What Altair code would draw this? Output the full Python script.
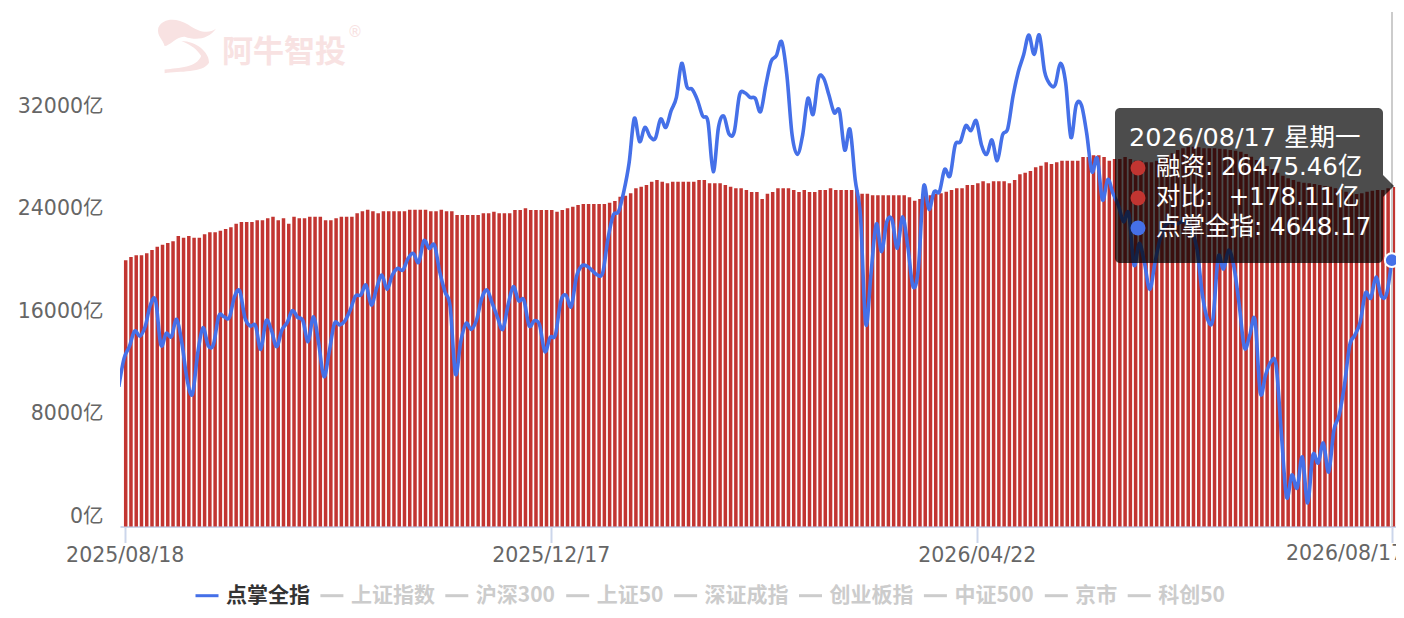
# Margin balance vs index dashboard chart

import pandas as pd
import altair as alt


# Margin balance per trading day, in 亿
margin_values = [
    20761, 21021, 21151, 21151, 21307, 21567, 21827, 21983, 22113, 22243, 22659, 22529, 22659, 22529, 22529, 22789,
    22945, 22945, 23075, 23205, 23335, 23621, 23751, 23751, 23751, 23881, 23881, 24037, 24167, 23881, 24037, 23621,
    24167, 24037, 24037, 24167, 24167, 24167, 23881, 23881, 24037, 24167, 24167, 24167, 24427, 24583, 24713, 24583,
    24427, 24583, 24583, 24583, 24583, 24583, 24713, 24713, 24713, 24713, 24583, 24583, 24713, 24583, 24583, 24297,
    24297, 24297, 24297, 24297, 24427, 24427, 24557, 24427, 24427, 24427, 24687, 24687, 24817, 24687, 24687, 24687,
    24687, 24687, 24557, 24687, 24817, 24947, 25077, 25155, 25155, 25155, 25155, 25155, 25259, 25389, 25727, 25805,
    25987, 26377, 26507, 26637, 26897, 27027, 26897, 26767, 26897, 26897, 26897, 26897, 26897, 27027, 27027, 26767,
    26767, 26767, 26637, 26507, 26377, 26377, 26247, 26091, 26091, 25545, 25961, 26091, 26377, 26377, 26377, 26247,
    26091, 26247, 26091, 26091, 26247, 26247, 26377, 26247, 26247, 26247, 26247, 26247, 25961, 25961, 25831, 25831,
    25831, 25831, 25831, 25831, 25831, 25675, 25415, 25545, 25831, 25831, 25961, 25987, 26117, 26247, 26377, 26377,
    26637, 26637, 26767, 26923, 26767, 26923, 26923, 26923, 26767, 27027, 27469, 27599, 27729, 28015, 28145, 28405,
    28275, 28405, 28535, 28535, 28535, 28535, 28821, 28821, 28951, 28951, 28821, 28535, 28665, 28665, 28821, 28665,
    28535, 28535, 28405, 28405, 28535, 28665, 28847, 29107, 29367, 29497, 29627, 29627, 29575, 29497, 29497, 29497,
    29471, 29419, 29367, 29315, 29237, 29055, 28847, 28587, 28327, 28119, 27859, 27599, 27365, 27157, 27027, 26897,
    26819, 26767, 26715, 26637, 26559, 26507, 26377, 26247, 26117, 26039, 25935, 25987, 26117, 26195, 26247, 26247,
    26377, 26475.46,
]

# 点掌全指, one point per day
index_values = [
    2440, 2935, 3138, 3412, 3324, 3487, 3865, 3941, 3167, 3371, 3313, 3615, 3196, 2557, 2312, 3022,
    3470, 3156, 3179, 3673, 3662, 3644, 4011, 4110, 3633, 3499, 3505, 3092, 3592, 3429, 3138, 3429,
    3557, 3767, 3650, 3592, 3226, 3662, 3196, 2615, 3051, 3545, 3516, 3592, 3778, 4022, 4040, 4214,
    3865, 4156, 4389, 4139, 4389, 4505, 4476, 4680, 4767, 4610, 4988, 4854, 4912, 4447, 4098, 3836,
    2661, 3226, 3545, 3441, 3604, 3982, 4127, 3894, 3650, 3441, 3865, 4185, 3941, 3953, 3505, 3592,
    3516, 3051, 3301, 3342, 3924, 4040, 3836, 4360, 4546, 4546, 4465, 4389, 4430, 5029, 5436, 5494,
    5843, 6338, 7123, 6716, 6966, 6803, 6774, 7111, 6966, 7257, 7489, 8083, 7676, 7629, 7443, 7164,
    7065, 6192, 6966, 7164, 6850, 6890, 7530, 7571, 7489, 7472, 7239, 7705, 8112, 8217, 8461, 7879,
    6832, 6495, 6832, 7472, 7193, 7821, 7821, 7530, 7222, 7257, 6570, 6931, 6047, 5407, 3534, 4418,
    5279, 4796, 5320, 5349, 4854, 5407, 4883, 4185, 4505, 5930, 5535, 5843, 5843, 6233, 6117, 6658,
    6716, 6995, 6908, 7082, 6658, 6495, 6745, 6384, 6832, 6948, 7513, 7937, 8228, 8577, 8240, 8577,
    7937, 7722, 7705, 8083, 7745, 6791, 7356, 7356, 6861, 6192, 6425, 5698, 6058, 5814, 5611, 5320,
    5465, 4563, 4942, 4592, 4139, 4616, 5034, 5261, 5314, 5279, 5314, 5314, 5174, 4825, 4040, 3612,
    3621, 4703, 4493, 4825, 4528, 3865, 3115, 3342, 3603, 2330, 2644, 2871, 2818, 1632, 515, 899,
    672, 1213, 410, 1248, 1108, 1457, 951, 1684, 1946, 2469, 3167, 3342, 3569, 4075, 3987, 4354,
    4022, 4057, 4648.17,
]

tick_days = [0, 81, 162, 241]
tick_dates = ["2025/08/18", "2025/12/17", "2026/04/22", "2026/08/17"]
y_ticks = [0, 8000, 16000, 24000, 32000]

legend_names = ["点掌全指", "上证指数", "沪深300", "上证50", "深证成指", "创业板指", "中证500", "京市", "科创50"]
legend_colors = ["#4570e8", "#ccc", "#ccc", "#ccc", "#ccc", "#ccc", "#ccc", "#ccc", "#ccc"]

tooltip_title = "2026/08/17 星期一"
tooltip_rows = ["融资: 26475.46亿", "对比: \u00a0+178.11亿", "点掌全指: 4648.17"]
tooltip_dots = ["#c23531", "#c23531", "#4570e8"]

font = "DejaVu Sans, Noto Sans CJK SC"
cjk_font = "Noto Sans CJK SC"

bar_df = pd.DataFrame({"day": range(len(margin_values)), "margin": margin_values})
line_df = pd.DataFrame({"day": range(len(index_values)), "points": index_values, "series": legend_names[0]})

# plot area sits at x 120..1396 and y 13.7..526.5 of the page
plot_w = 1276
plot_h = 512.8
left = 120
top = 13.7

# tick labels come from the lists, last one gets drawn by hand because it is pushed left
label_lookup = "{" + ",".join(f"'{d}':'{t}'" for d, t in zip(tick_days[:-1], tick_dates[:-1])) + "}"

bar_x = alt.Scale(domain = [-0.894, 241.69], nice = False, zero = False, padding = 0)
line_x = alt.Scale(domain = [0.228, 242.8], nice = False, zero = False)
line_y = alt.Scale(domain = [0, 8950], nice = False)

bars = (
    alt.Chart(bar_df)
    .mark_bar(size = 3.5, color = "#c23531", xOffset = 1)
    .encode(
        x = alt.X(
            "day:Q",
            scale = bar_x,
            title = None,
            axis = alt.Axis(
                values = tick_days,
                labelExpr = f"{label_lookup}[datum.value] || ''",
                grid = False,
                domainColor = "#ccd6eb",
                domainWidth = 2,
                tickColor = "#ccd6eb",
                tickWidth = 2,
                tickSize = 16,
                labelFont = font,
                labelFontSize = 20.5,
                labelColor = "#666",
                labelPadding = 3,
                labelFlush = False,
                labelOverlap = False,
            ),
        ),
        y = alt.Y(
            "margin:Q",
            scale = alt.Scale(domain = [0, 40000], nice = False),
            title = None,
            axis = alt.Axis(
                values = y_ticks,
                labelExpr = "datum.value + '亿'",
                grid = False,
                domain = False,
                ticks = False,
                labelFont = font,
                labelFontSize = 20.5,
                labelColor = "#666",
                labelPadding = 17,
                labelOffset = -10,
            ),
        ),
    )
)

line = (
    alt.Chart(line_df)
    .mark_line(strokeWidth = 3.6, interpolate = "cardinal", tension = 0, clip = True)
    .encode(
        x = alt.X("day:Q", scale = line_x, axis = None),
        y = alt.Y("points:Q", scale = line_y, axis = None),
        color = alt.Color(
            "series:N",
            scale = alt.Scale(domain = legend_names, range = legend_colors),
            legend = alt.Legend(
                title = None,
                orient = "none",
                legendX = 74,
                legendY = 569,
                direction = "horizontal",
                columns = len(legend_names),
                columnPadding = 3.9,
                padding = 0,
                symbolType = "stroke",
                symbolSize = 529,
                symbolStrokeWidth = 3,
                labelOffset = 6,
                labelFont = cjk_font,
                labelFontSize = 21,
                labelFontWeight = "bold",
                labelColor = {"expr": "datum.label == '点掌全指' ? '#333' : '#ccc'"},
                labelLimit = 200,
            ),
        ),
    )
)

# Cursor at the hovered day
cursor = (
    alt.Chart(bar_df.head(1))
    .mark_rule(color = "#ccc", strokeWidth = 2)
    .encode(x = alt.value(1392 - left), y = alt.value(12 - top), y2 = alt.value(plot_h))
)

end_dot = (
    alt.Chart(line_df.tail(1))
    .mark_point(filled = True, opacity = 1, size = 190, color = "#4570e8", stroke = "white", strokeWidth = 2)
    .encode(
        x = alt.X("day:Q", scale = line_x, axis = None),
        y = alt.Y("points:Q", scale = line_y, axis = None),
    )
)

# Tooltip box, arrow, dots and text
tip_box = (
    alt.Chart(bar_df.head(1))
    .mark_rect(color = "black", opacity = 0.7, cornerRadius = 5)
    .encode(
        x = alt.value(1115 - left),
        x2 = alt.value(1383 - left),
        y = alt.value(108 - top),
        y2 = alt.value(263 - top),
    )
)

tip_arrow = (
    alt.Chart(bar_df.head(1))
    .mark_point(shape = "M -0.5 -1 L 0.5 0 L -0.5 1 Z", filled = True, opacity = 0.7, color = "black", size = 484)
    .encode(x = alt.value(1388.5 - left), y = alt.value(186 - top))
)

tip_title = (
    alt.Chart(bar_df.head(1))
    .mark_text(text = tooltip_title, align = "left", baseline = "middle", font = font, fontSize = 25.5, color = "white")
    .encode(x = alt.value(1129 - left), y = alt.value(138 - top))
)

tip_parts = [tip_box, tip_arrow, tip_title]
for row, (row_text, dot_color) in enumerate(zip(tooltip_rows, tooltip_dots)):
    row_y = 168 + row * 30 - top
    tip_parts.append(
        alt.Chart(bar_df.head(1))
        .mark_point(filled = True, opacity = 1, size = 225, color = dot_color)
        .encode(x = alt.value(1138 - left), y = alt.value(row_y))
    )
    tip_parts.append(
        alt.Chart(bar_df.head(1))
        .mark_text(text = row_text, align = "left", baseline = "middle", font = font, fontSize = 24.5, color = "white")
        .encode(x = alt.value(1156 - left), y = alt.value(row_y))
    )

last_label = (
    alt.Chart(bar_df.head(1))
    .mark_text(text = tick_dates[-1], align = "center", baseline = "middle", font = font, fontSize = 20.5, color = "#666")
    .encode(x = alt.value(1345 - left), y = alt.value(554 - top))
)

# Watermark top left
mark_color = "#f8e2e2"
hair_path = "M -0.99 -0.61 C -0.83 -0.94 -0.39 -0.94 0 -0.72 C 0.39 -0.44 0.7 -0.4 0.94 -0.58 C 0.67 -0.22 0.28 -0.17 -0.11 -0.31 C -0.39 -0.33 -0.61 0 -0.78 0 C -0.83 -0.22 -1.05 -0.33 -0.99 -0.61 Z"
tail_path = "M -0.22 -0.17 C 0.28 -0.17 0.72 0.22 0.7 0.56 C 0.5 0.91 -0.28 0.83 -0.78 0.91 L -0.78 0.78 C -0.28 0.72 0.28 0.72 0.44 0.33 C 0.28 0.1 0.17 0 -0.22 -0.17 Z"

wm_logo = [
    alt.Chart(bar_df.head(1))
    .mark_point(shape = p, filled = True, opacity = 1, color = mark_color, size = 3600)
    .encode(x = alt.value(188 - left), y = alt.value(46 - top))
    for p in [hair_path, tail_path]
]
wm_text = (
    alt.Chart(bar_df.head(1))
    .mark_text(text = "阿牛智投", font = cjk_font, fontSize = 31, fontWeight = "bold", color = mark_color)
    .encode(x = alt.value(284 - left), y = alt.value(53 - top))
)
wm_r = (
    alt.Chart(bar_df.head(1))
    .mark_text(text = "®", font = font, fontSize = 15, color = mark_color)
    .encode(x = alt.value(355 - left), y = alt.value(32 - top))
)

chart = (
    alt.layer(bars, *wm_logo, wm_text, wm_r, cursor, line, end_dot, *tip_parts, last_label)
    .resolve_scale(x = "independent", y = "independent", color = "independent")
    .properties(
        width = plot_w,
        height = plot_h,
        padding = {"left": left - 8, "top": top - 8, "right": 0, "bottom": 80},
        autosize = alt.AutoSizeParams(type = "none"),
    )
    .configure_view(stroke = None)
)

chart.save("out.html", embed_options = {"renderer": "svg", "actions": False})
